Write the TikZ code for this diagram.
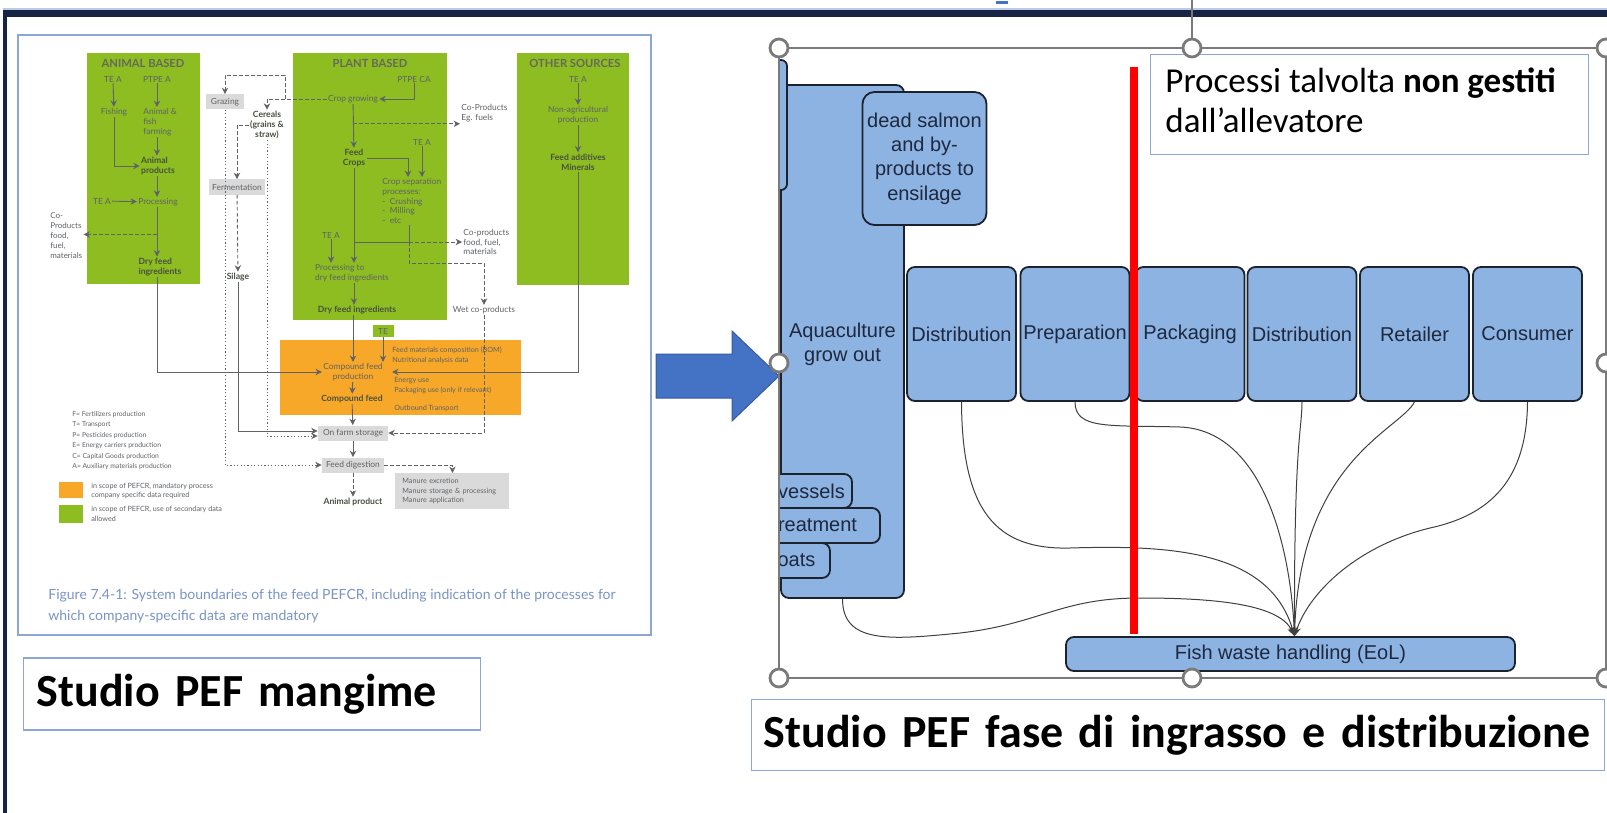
\documentclass[tikz,border=0pt]{standalone}
\usepackage{fontspec}
\setmainfont{Carlito}
\newfontfamily\arialfont{Liberation Sans}
\newfontfamily\figfont{Lato}
\usetikzlibrary{arrows.meta,calc}

\definecolor{navy}{RGB}{22,36,70}
\definecolor{pefgreen}{RGB}{141,189,33}
\definecolor{peforange}{RGB}{248,168,40}
\definecolor{pefgray}{RGB}{218,218,218}
\definecolor{figgray}{RGB}{95,98,102}
\definecolor{figdark}{RGB}{72,80,64}
\definecolor{capblue}{RGB}{122,148,196}
\definecolor{frameblue}{RGB}{140,166,214}
\definecolor{boxblue}{RGB}{141,179,226}
\definecolor{boxline}{RGB}{28,34,46}
\definecolor{boxtext}{RGB}{30,40,62}
\definecolor{arrowblue}{RGB}{68,114,196}
\definecolor{handlegray}{RGB}{122,122,122}

\tikzset{
  figtxt/.style={font=\figfont\fontsize{4.2}{4.9}\selectfont, text=figgray, inner sep=0.5pt, align=center},
  figbold/.style={figtxt, font=\figfont\bfseries\fontsize{4.3}{5}\selectfont, text=figdark},
  figtitle/.style={figtxt, font=\figfont\bfseries\fontsize{5.6}{6}\selectfont, text=figdark!85},
  figsmall/.style={figtxt, font=\figfont\fontsize{3.6}{4.8}\selectfont, align=left, inner sep=0pt},
  graybox/.style={figtxt, fill=pefgray, minimum height=7.5pt},
  figline/.style={draw=figgray, line width=0.45pt},
  figarr/.style={figline, -{Stealth[length=3.2pt,width=3.2pt]}},
  figdash/.style={figarr, dash pattern=on 1.8pt off 1.2pt},
  figdot/.style={figarr, dash pattern=on 0.6pt off 1.1pt},
  vbox/.style={draw=boxline, fill=boxblue, line width=0.9pt, rounded corners=4pt,
    font=\arialfont\fontsize{10}{12.2}\selectfont, text=boxtext, align=center, inner sep=0pt},
  flow/.style={draw=black!75, line width=0.5pt, -{Stealth[length=4.5pt,width=3.5pt]}},
  textframe/.style={draw=frameblue, line width=0.7pt, inner sep=0pt},
  handle/.style={draw=handlegray, fill=white, line width=1.4pt}
}

\begin{document}
\begin{tikzpicture}[x=0.5pt,y=-0.5pt]
\useasboundingbox (0,0) rectangle (1607,813);
\fill[white] (0,0) rectangle (1607,813);

% slide frame
\fill[frameblue!60] (3,8) rectangle (1607,10);
\fill[navy] (3,10) rectangle (1607,17);
\fill[navy] (3,10) rectangle (7,813);
\fill[arrowblue] (996,1) rectangle (1008,4);

% feed PEFCR figure
\draw[frameblue, line width=0.8pt] (18,35) rectangle (651,635);
\fill[pefgreen] (87,53) rectangle (200,284);
\fill[pefgreen] (293,53) rectangle (447,320);
\fill[pefgreen] (517,53) rectangle (629,285);
\fill[peforange] (280,340) rectangle (521,415);

\node[figtitle] (anititle) at (143,63) {ANIMAL BASED};
\node[figtxt] (teaf) at (113,79) {TE A};
\node[figtxt] (ptpea) at (157,79) {PTPE A};
\node[figtxt] (fishing) at (114,112) {Fishing};
\node[figtxt, align=left, anchor=north west] (farming) at (142,107) {Animal \&\\fish\\farming};
\node[figbold, align=left] (aniprod) at (158,166) {Animal\\products};
\node[figtxt] (teap) at (102,201) {TE A};
\node[figtxt] (proc) at (158,202) {Processing};
\node[figbold, align=left] (dryani) at (160,267) {Dry feed\\ingredients};
\node[figtxt, align=left, anchor=west, font=\figfont\fontsize{4}{5}\selectfont] (coani) at (49,236) {Co-\\Products\\food,\\fuel,\\materials};

\node[graybox, minimum width=19pt] (grazing) at (225,102) {Grazing};
\node[figbold] (cereals) at (267,125) {Cereals\\(grains \&\\straw)};
\node[graybox, minimum width=28pt] (ferment) at (237,187) {Fermentation};
\node[figbold] (silage) at (238,277) {Silage};

\node[figtitle] (plantitle) at (370,63) {PLANT BASED};
\node[figtxt] (ptpeca) at (414,79) {PTPE CA};
\node[figtxt] (cropgrow) at (353,99) {Crop growing};
\node[figtxt, align=left, anchor=west] (coeg) at (460,113) {Co-Products\\Eg. fuels};
\node[figbold] (feedcrops) at (354,158) {Feed\\Crops};
\node[figtxt] (teacs) at (422,142) {TE A};
\node[figtxt, align=left, anchor=north west] (cropsep) at (381,177) {Crop separation\\processes:\\- \ Crushing\\- \ Milling\\- \ etc};
\node[figtxt] (teapd) at (331,235) {TE A};
\node[figtxt, align=left, anchor=west] (coplant) at (462,242) {Co-products\\food, fuel,\\materials};
\node[figtxt, align=left] (procdry) at (352,273) {Processing to\\dry feed ingredients};
\node[figbold] (dryplant) at (357,310) {Dry feed ingredients};
\node[figtxt] (wetco) at (484,310) {Wet co-products};

\node[figtitle] (othtitle) at (575,63) {OTHER SOURCES};
\node[figtxt] (teao) at (578,79) {TE A};
\node[figtxt] (nonagri) at (578,115) {Non-agricultural\\production};
\node[figbold] (additives) at (578,162) {Feed additives\\Minerals};

\node[figtxt, fill=pefgreen, minimum width=10.5pt, minimum height=6pt] (te) at (383,331) {TE};
\node[figtxt] (cfprod) at (353,372) {Compound feed\\production};
\node[figbold] (cfeed) at (352,399) {Compound feed};
\node[figsmall, anchor=north west] (bom) at (392,347) {Feed materials composition (BOM)\\Nutritional analysis data};
\node[figsmall, anchor=north west] (energy) at (394,377) {Energy use\\Packaging use (only if relevant)};
\node[figsmall, anchor=west] (outbound) at (394,408) {Outbound Transport};

\node[graybox, minimum width=35pt] (storage) at (353,433) {On farm storage};
\node[graybox, minimum width=31pt] (digest) at (353,465) {Feed digestion};
\node[graybox, figsmall, anchor=north west, text width=50pt, inner xsep=3.5pt, inner ysep=2.5pt] (manure) at (395,473) {Manure excretion\\Manure storage \& processing\\Manure application};
\node[figbold] (aniproduct) at (353,502) {Animal product};

\node[figsmall, anchor=north west, font=\figfont\fontsize{3.4}{5.2}\selectfont] (legend) at (72,411) {F= Fertilizers production\\T= Transport\\P= Pesticides production\\E= Energy carriers production\\C= Capital Goods production\\A= Auxiliary materials production};
\fill[peforange] (59,482) rectangle (83,498);
\fill[pefgreen] (59,505) rectangle (83,523);
\node[figsmall, anchor=west] (legor) at (91,491) {in scope of PEFCR, mandatory process\\company specific data required};
\node[figsmall, anchor=west] (leggr) at (91,514) {in scope of PEFCR, use of secondary data\\allowed};
\node[anchor=north west, inner sep=0pt, align=left, text=capblue, font=\figfont\fontsize{7}{10.5}\selectfont] (caption) at (48,589) {Figure 7.4-1: System boundaries of the feed PEFCR, including indication of the processes for\\which company-specific data are mandatory};

\draw[figarr] (teaf) -- (fishing);
\draw[figarr] (ptpea) -- (ptpea |- farming.north);
\draw[figarr] (farming.south -| ptpea) -- (aniprod.north -| ptpea);
\draw[figarr] (fishing) |- (aniprod);
\draw[figarr] (aniprod.south -| ptpea) -- (proc.north -| ptpea);
\draw[figarr] (teap) -- (proc);
\draw[figarr] (proc.south -| ptpea) -- (dryani.north -| ptpea);
\coordinate (anisplit) at ($(proc.south -| ptpea)!0.55!(dryani.north -| ptpea)$);
\draw[figdash] (anisplit) -- (anisplit -| coani.east);
\draw[figarr] (dryani.south -| ptpea) |- (cfprod.west);

\draw[figarr] (ptpeca) |- (cropgrow.east);
\draw[figarr] (cropgrow) -- (feedcrops);
\coordinate (cgsplit) at ($(cropgrow.south)!0.45!(feedcrops.north)$);
\draw[figdash] (cgsplit) -- (cgsplit -| coeg.west);
\draw[figdash] (cropgrow.west) -| (cereals.north);
\coordinate (grazturn) at (285,75);
\draw[figdash] (cropgrow.west -| grazturn) -- (grazturn) -| (grazing.north);
\draw[figdash] (cereals.west) -| (ferment.north);
\draw[figdash] (ferment) -- (silage);
\draw[figarr] (silage) |- ([yshift=1pt]storage.west);
\draw[figdot] (grazing) |- (digest.west);
\draw[figdot] (cereals) |- ([yshift=-1.5pt]storage.west);
\draw[figarr] (feedcrops.east) -| ($(cropsep.north west)+(27,0)$);
\draw[figarr] (teacs) -- (teacs |- cropsep.north);
\coordinate (sepout) at (409,242);
\draw[figline] (sepout |- cropsep.south) -- (sepout) -- (sepout -| feedcrops);
\draw[figdash] (sepout) -- (sepout -| coplant.west);
\draw[figdash] (sepout) -- ++(0,21) -| (wetco.north);
\draw[figarr] (feedcrops) -- (feedcrops |- procdry.north);
\draw[figarr] (teapd) -- (teapd |- procdry.north);
\draw[figarr] (procdry.south -| feedcrops) -- (dryplant.north -| feedcrops);
\draw[figarr] (dryplant.south -| cfprod) -- (cfprod.north);
\draw[figarr] (te) -- (te |- cfprod.north);
\draw[figarr] (cfprod) -- (cfeed);
\draw[figarr] (cfeed) -- (storage);
\draw[figarr] (storage) -- (digest);
\draw[figdash] (digest) -- (aniproduct);
\draw[figdash] (digest) -| (manure.north);
\draw[figdash] (wetco) |- (storage.east);
\draw[figarr] (teao) -- (nonagri);
\draw[figarr] (nonagri) -- (additives);
\draw[figarr] (additives) |- ([xshift=4pt]cfprod.east);

% slide text boxes
\node[textframe, anchor=west, minimum height=36pt, inner xsep=6.5pt, text width=215.5pt, align=left,
  font=\bfseries\fontsize{23}{26}\selectfont] (studiofeed) at (23,694) {\mbox{Studio PEF mangime}};
\node[textframe, anchor=west, minimum height=35.5pt, inner xsep=6pt, text width=414.5pt, align=left,
  font=\bfseries\fontsize{23}{26}\selectfont] (studiofarm) at (751,735) {\mbox{Studio PEF fase di ingrasso e distribuzione}};

% big arrow
\fill[arrowblue, draw=arrowblue!80!black, line width=0.5pt]
  (656,354) -- (732,354) -- (732,331) -- (779,376) -- (732,421) -- (732,398) -- (656,398) -- cycle;

% salmon life cycle picture
\begin{scope}
\clip (779,48) rectangle (1606,678);
\node[vbox, minimum width=61.5pt, minimum height=256.5pt] (aqua) at (842.5,341.5) {\\[-2pt]Aquaculture\\grow out};
\draw[draw=boxline, fill=boxblue, line width=0.9pt, rounded corners=3pt] (762,60) rectangle (787,190);
\node[vbox, rounded corners=6pt, minimum width=62pt, minimum height=66.5pt] (salmon) at (924.5,158.5) {dead salmon\\and by-\\products to\\ensilage};
\node[vbox, minimum width=40.5pt, minimum height=17pt] (vessels) at (811.5,491) {vessels};
\node[vbox, minimum width=62.5pt, minimum height=17.5pt] (treat) at (817.5,525.5) {reatment};
\node[vbox, minimum width=33.5pt, minimum height=17.5pt] (boats) at (796.5,560.5) {oats};
\foreach \cx/\nm/\lbl in {961.5/dista/Distribution, 1075/prep/Preparation, 1190/pack/Packaging,
    1302/distb/Distribution, 1414.5/ret/Retailer, 1527.5/cons/Consumer}{
  \node[vbox, minimum width=54.5pt, minimum height=67pt] (\nm) at (\cx,334) {\lbl};
}
\node[vbox, minimum width=224.5pt, minimum height=17pt] (fish) at (1290.5,654) {Fish waste handling (EoL)};
\coordinate (sink) at ([xshift=2pt]fish.north);
\draw[flow] (aqua.south) .. controls +(0,45) and (890,640) .. (960,633)
  .. controls (1040,624) and (1060,598) .. (1140,598) .. controls (1220,598) and (1280,605) .. (sink);
\draw[flow] (dista.south) .. controls (962,510) and (995,550) .. (1070,548)
  .. controls (1170,545) and (1270,550) .. (sink);
\draw[flow] (prep.south) .. controls (1075,430) and (1110,425) .. (1180,427)
  .. controls (1260,430) and (1290,540) .. (sink);
\draw[flow] (distb.south) .. controls (1302,430) and (1294,440) .. (sink);
\draw[flow] (ret.south) .. controls (1400,430) and (1300,460) .. (sink);
\draw[flow] (cons.south) .. controls (1527,480) and (1490,515) .. (1430,528)
  .. controls (1360,545) and (1310,590) .. (sink);
\draw[red, line width=4pt] (1134,67) -- (1134,634);
\end{scope}

\node[textframe, anchor=north west, minimum width=219pt, minimum height=50pt] (notebox) at (1150,54) {};
\node[anchor=north west, inner sep=0pt, align=left, font=\fontsize{17.5}{20}\selectfont] (note)
  at (1165,67) {Processi talvolta \textbf{non gestiti}\\dall’allevatore};

% selection handles
\draw[handlegray, line width=0.6pt] (779,48) rectangle (1606,678);
\draw[handlegray, line width=0.6pt] (1192,0) -- (1192,39);
\foreach \hx/\hy in {779/48, 1192/48, 1606/48, 779/363, 1606/363, 779/678, 1192/678, 1606/678}{
  \draw[handle] (\hx,\hy) circle (4.5pt);
}
\end{tikzpicture}
\end{document}
